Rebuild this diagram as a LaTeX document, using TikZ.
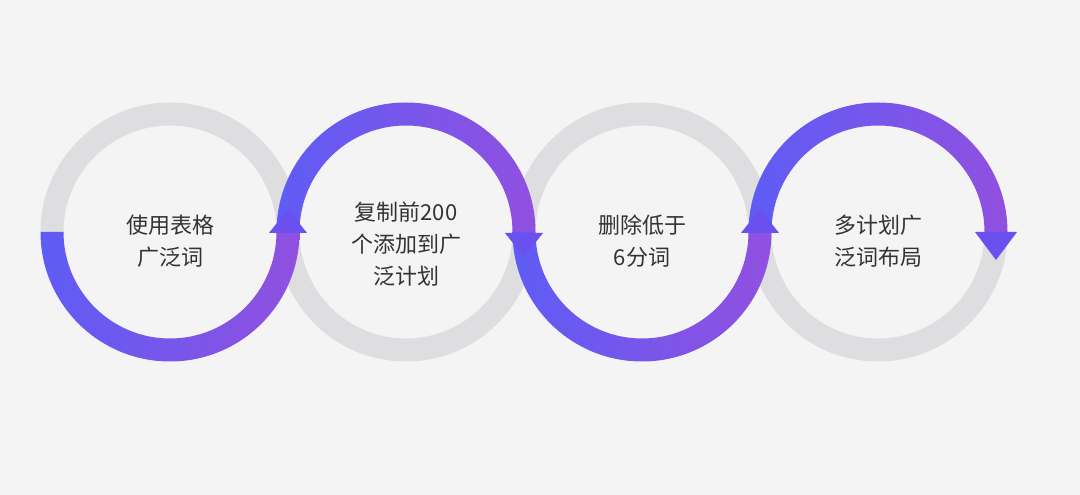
\documentclass[tikz,border=0pt]{standalone}
\usepackage{fontspec}
\usetikzlibrary{calc}
\newfontfamily\cjk{Noto Sans CJK SC}
\definecolor{bgC}{HTML}{F4F4F5}
\definecolor{grayC}{HTML}{DEDEE0}
\definecolor{blueC}{HTML}{5E5CF5}
\definecolor{purpC}{HTML}{9150E0}
\definecolor{arrC}{HTML}{6A50EE}
\definecolor{txtC}{HTML}{333333}
\tikzset{
  grayring/.style={draw=grayC, line width=23pt},
  purpring/.style={left color=blueC, right color=purpC},
  tiphead/.style={fill=arrC, draw=none},
  label/.style={font=\cjk\fontsize{22pt}{32pt}\selectfont, text=txtC, align=center}
}
\begin{document}
\begin{tikzpicture}[x=1pt,y=1pt]
\fill[bgC] (0,0) rectangle (1080,495);
\useasboundingbox (0,0) rectangle (1080,495);
\def\R{118}
\def\Ro{129.5}
\def\Ri{106.5}
\def\cy{263}
% gray halves
\draw[grayring] (170+\R,\cy) arc (0:180:\R);
\draw[grayring] (406+\R,\cy) arc (0:-180:\R);
\draw[grayring] (642+\R,\cy) arc (0:180:\R);
\draw[grayring] (878+\R,\cy) arc (0:-180:\R);
% purple halves
\shade[purpring] (170-\Ro,\cy) arc (180:360:\Ro) -- (170+\Ri,\cy) arc (0:-180:\Ri) -- cycle;
\shade[purpring] (406-\Ro,\cy) arc (180:0:\Ro) -- (406+\Ri,\cy) arc (0:180:\Ri) -- cycle;
\shade[purpring] (642-\Ro,\cy) arc (180:360:\Ro) -- (642+\Ri,\cy) arc (0:-180:\Ri) -- cycle;
\shade[purpring] (878-\Ro,\cy) arc (180:0:\Ro) -- (878+\Ri,\cy) arc (0:180:\Ri) -- cycle;
% arrowheads
\coordinate (j1) at (288,262);
\coordinate (j2) at (524,262);
\coordinate (j3) at (760,262);
\coordinate (j4) at (996,263);
\fill[tiphead] ($(j1)+(-19,0)$) -- ($(j1)+(19,0)$) -- ($(j1)+(0,24)$) -- cycle;
\fill[tiphead] ($(j2)+(-19,0)$) -- ($(j2)+(19,0)$) -- ($(j2)+(0,-24)$) -- cycle;
\fill[tiphead] ($(j3)+(-19,0)$) -- ($(j3)+(19,0)$) -- ($(j3)+(0,24)$) -- cycle;
\fill[tiphead] ($(j4)+(-21,0)$) -- ($(j4)+(21,0)$) -- ($(j4)+(0,-28)$) -- cycle;
% labels
\node[label] (t1) at (170,254) {使用表格\\广泛词};
\node[label] (t2) at (406,251) {复制前200\\个添加到广\\泛计划};
\node[label] (t3) at (642,254) {删除低于\\6分词};
\node[label] (t4) at (878,254) {多计划广\\泛词布局};
\end{tikzpicture}
\end{document}
